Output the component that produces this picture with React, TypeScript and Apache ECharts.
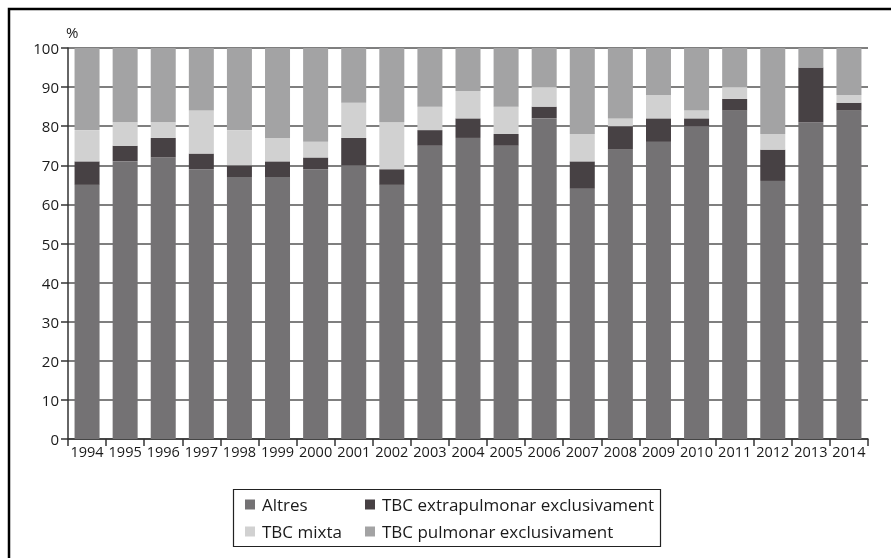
import React, { useEffect, useRef } from "react";
import * as echarts from "echarts";

const years = ["1994","1995","1996","1997","1998","1999","2000","2001","2002","2003","2004","2005","2006","2007","2008","2009","2010","2011","2012","2013","2014"];
const altres = [65,71,72,69,67,67,69,70,65,75,77,75,82,64,74,76,80,84,66,81,84];
const extrapulmonar = [6,4,5,4,3,4,3,7,4,4,5,3,3,7,6,6,2,3,8,14,2];
const mixta = [8,6,4,11,9,6,4,9,12,6,7,7,5,7,2,6,2,3,4,0,2];
const pulmonar = [21,19,19,16,21,23,24,14,19,15,11,15,10,22,18,12,16,10,22,5,12];
const yTicks = [0,10,20,30,40,50,60,70,80,90,100];

const names = ["Altres","TBC extrapulmonar exclusivament","TBC mixta","TBC pulmonar exclusivament"];
const colors = ["#747274","#474144","#d1d1d1","#a3a3a4"];
const FONT = "'Open Sans', 'Noto Sans', sans-serif";

export default function App() {
  const ref = useRef<HTMLDivElement>(null);
  useEffect(() => {
    const chart = echarts.init(ref.current!, null, { renderer: "svg" });
    const datasets = [altres, extrapulmonar, mixta, pulmonar];
    const legendText = { color: "#1a1a1a", fontSize: 17, lineHeight: 17, fontFamily: FONT, padding: [0, 0, 0, 2] };
    chart.setOption({
      animation: false,
      textStyle: { fontFamily: FONT },
      grid: { left: 68, right: 23, top: 48, bottom: 119, containLabel: false },
      xAxis: {
        type: "category",
        data: years,
        axisLine: { lineStyle: { color: "#333", width: 1.5 } },
        axisTick: { show: true, length: 7, alignWithLabel: false, lineStyle: { color: "#333", width: 1.5 } },
        axisLabel: { color: "#1a1a1a", fontSize: 14.5, margin: 5, interval: 0, fontFamily: FONT },
      },
      yAxis: {
        type: "value",
        min: 0,
        max: 100,
        interval: 10,
        name: "%",
        nameLocation: "end",
        nameGap: 9,
        nameTextStyle: { color: "#1a1a1a", fontSize: 15, align: "left", padding: [0, 0, 0, -2], fontFamily: FONT },
        axisLine: { show: true, lineStyle: { color: "#333", width: 1.5 } },
        axisTick: { show: true, inside: false, length: 7, lineStyle: { color: "#333", width: 1.5 } },
        axisLabel: { color: "#1a1a1a", fontSize: 15, margin: 9, fontFamily: FONT, customValues: yTicks },
        splitLine: { show: true, lineStyle: { color: "#555", width: 1.5 } },
      },
      legend: [
        {
          orient: "vertical",
          left: 240,
          top: 491,
          itemWidth: 10,
          itemHeight: 10,
          itemGap: 10,
          icon: "rect",
          data: [names[0], names[2]],
          textStyle: legendText,
        },
        {
          orient: "vertical",
          left: 360,
          top: 491,
          itemWidth: 10,
          itemHeight: 10,
          itemGap: 10,
          icon: "rect",
          data: [names[1], names[3]],
          textStyle: legendText,
        },
      ],
      graphic: [
        { type: "rect", shape: { x: 9, y: 9, width: 1000, height: 1000 }, style: { fill: "none", stroke: "#000", lineWidth: 2.5 }, silent: true },
        { type: "rect", shape: { x: 233.5, y: 489.5, width: 427, height: 57 }, style: { fill: "none", stroke: "#222", lineWidth: 1.2 }, silent: true },
      ],
      series: datasets.map((d, i) => ({
        name: names[i],
        type: "bar",
        stack: "total",
        data: d,
        barWidth: 25,
        itemStyle: { color: colors[i] },
      })),
    });
    return () => chart.dispose();
  }, []);
  return <div ref={ref} style={{ position: "fixed", left: 0, top: 0, width: 891, height: 558 }} />;
}
